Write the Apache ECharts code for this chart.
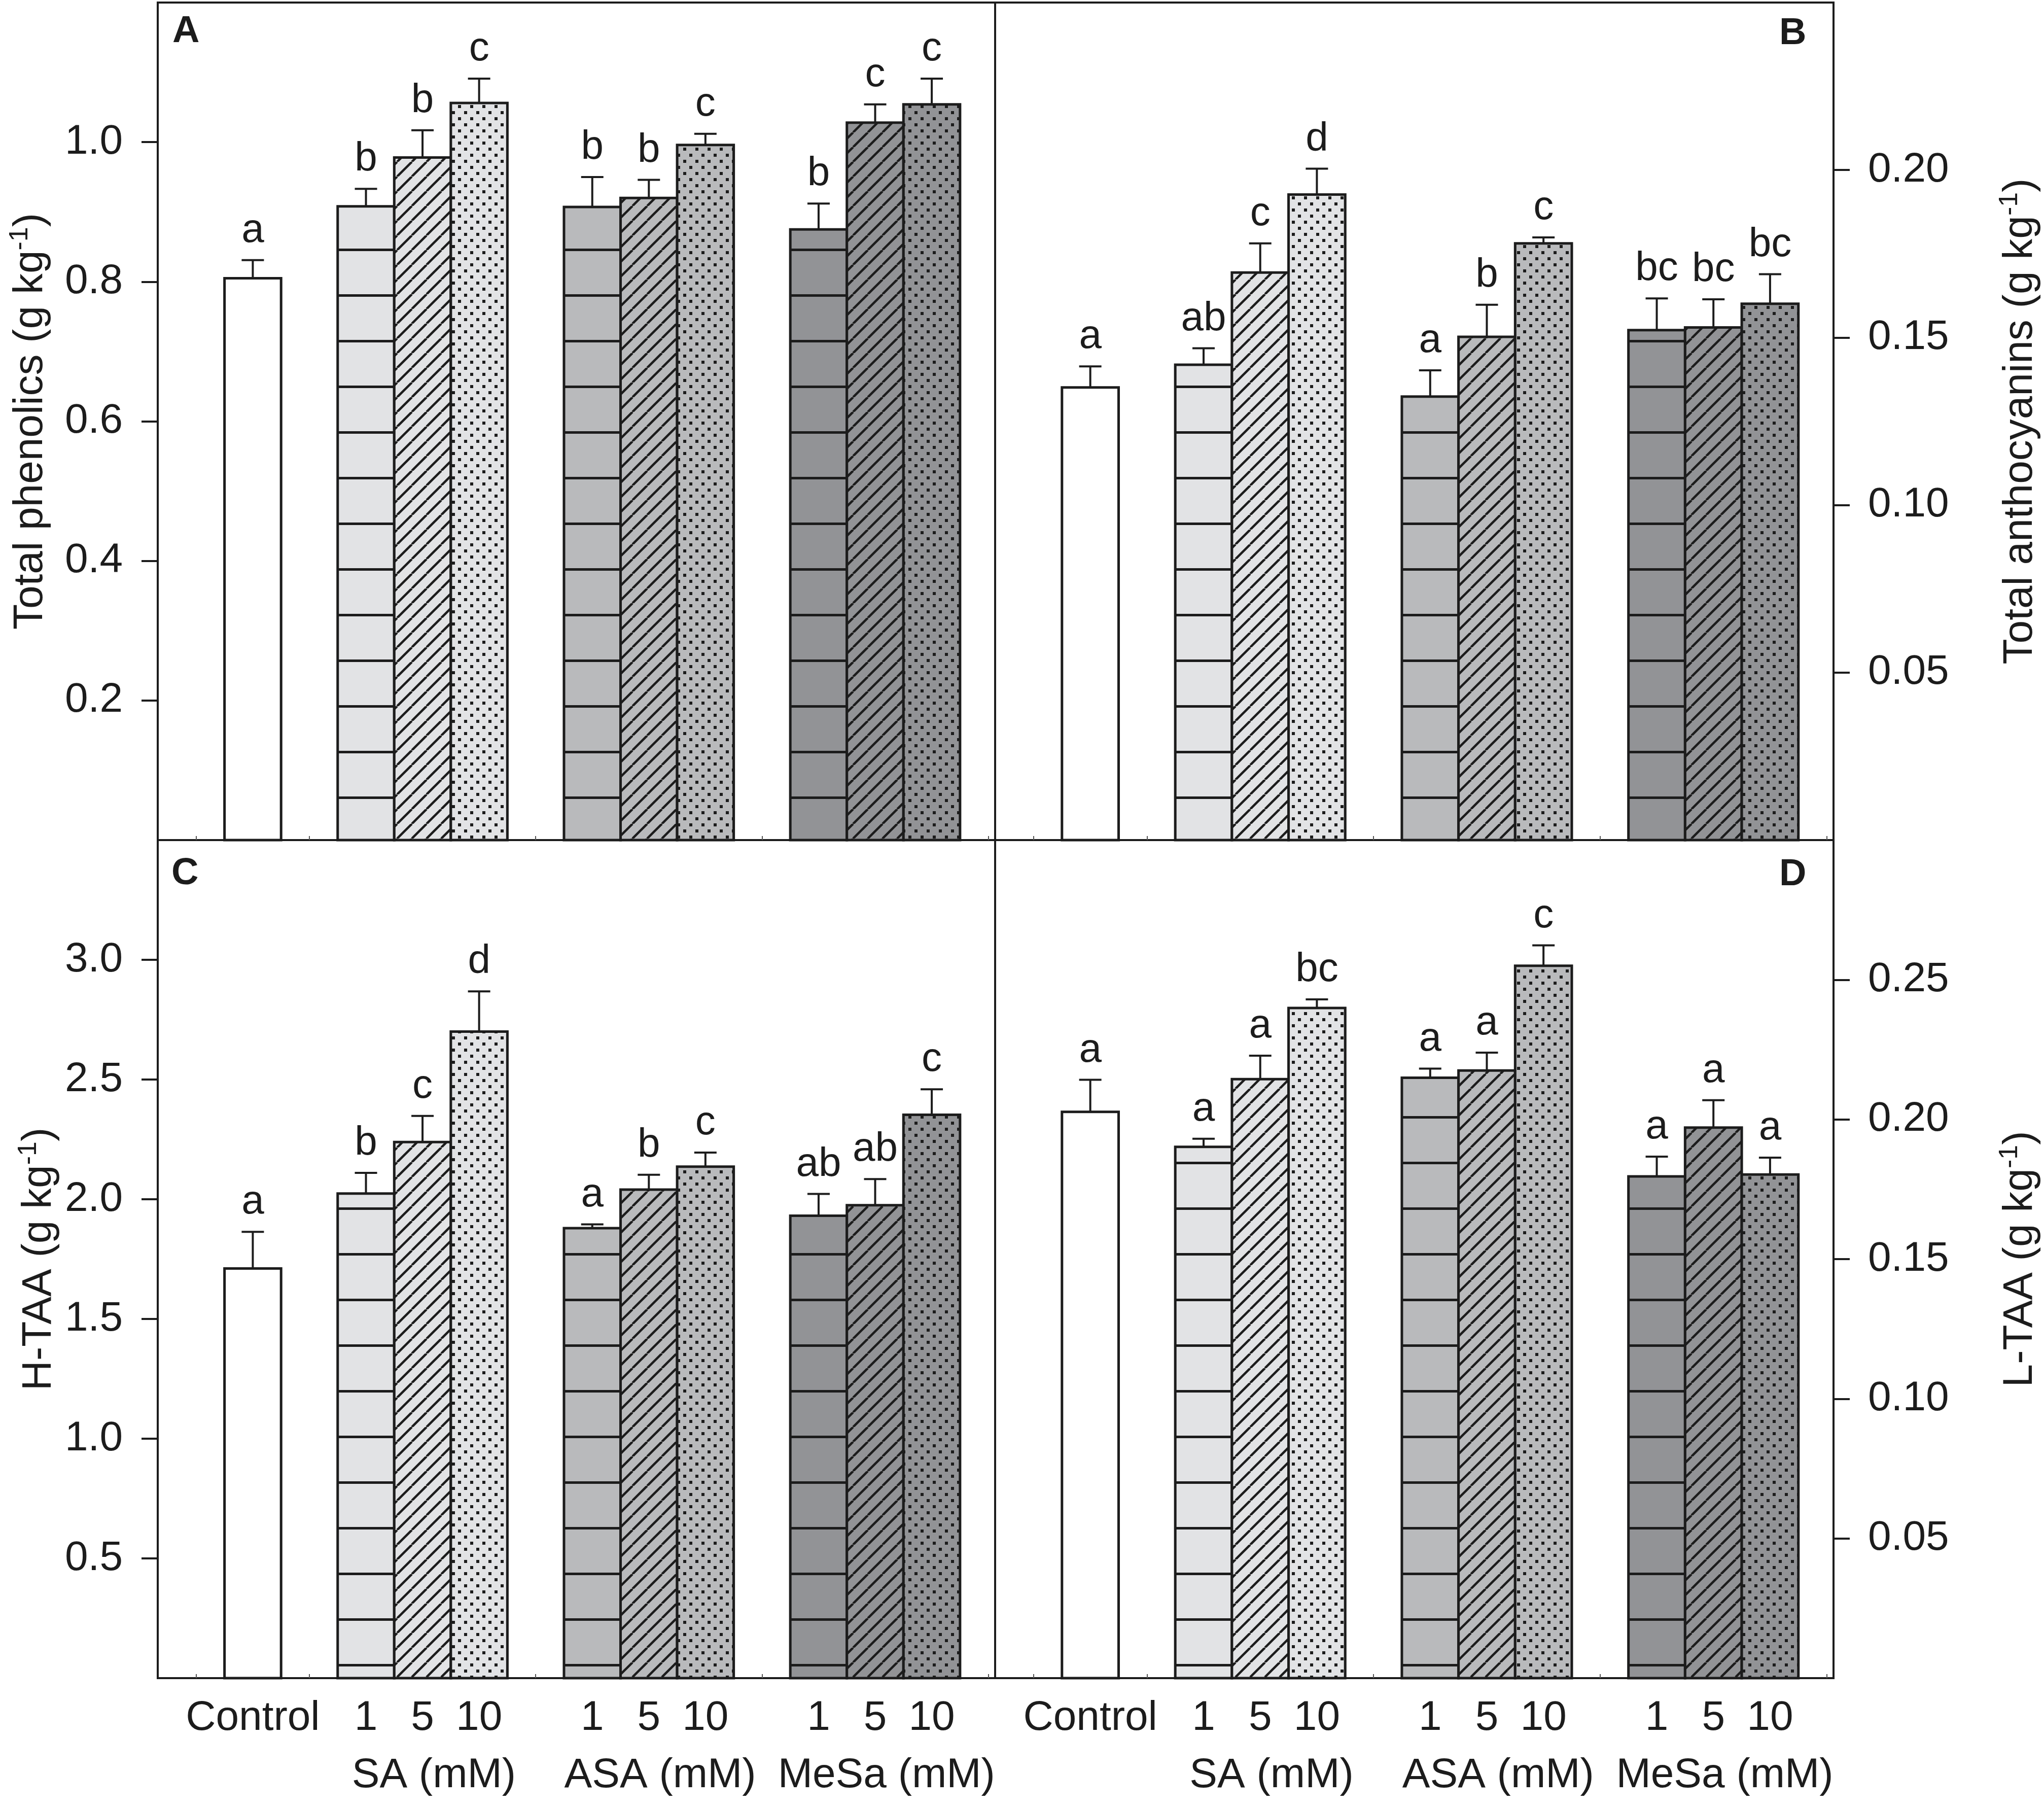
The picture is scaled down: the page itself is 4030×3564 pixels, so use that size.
<!DOCTYPE html>
<html>
<head>
<meta charset="utf-8">
<script src="https://cdn.jsdelivr.net/npm/echarts@6/dist/echarts.min.js"></script>
<style>
html,body{margin:0;padding:0;background:#ffffff;}
#chart{width:4030px;height:3564px;}
</style>
</head>
<body>
<div id="chart"></div>
<script>
// ---------------- data ----------------
const treatments = ['Control','SA 1','SA 5','SA 10','ASA 1','ASA 5','ASA 10','MeSa 1','MeSa 5','MeSa 10'];
const treatmentGroup = [0,1,1,1,2,2,2,3,3,3];
const xTickLabels = ['Control','1','5','10','1','5','10','1','5','10'];
const groupLabels = ['SA (mM)','ASA (mM)','MeSa (mM)'];

const phenolics        = [0.805,0.908,0.978,1.056,0.907,0.920,0.996,0.875,1.028,1.054];
const phenolicsSE      = [0.026,0.025,0.039,0.035,0.043,0.026,0.016,0.037,0.026,0.037];
const phenolicsLetters = ['a','b','b','c','b','b','c','b','c','c'];

const anthocyanins        = [0.1351,0.1419,0.1694,0.1927,0.1324,0.1502,0.1781,0.1522,0.1530,0.1601];
const anthocyaninsSE      = [0.0063,0.0049,0.0087,0.0077,0.0078,0.0096,0.0018,0.0095,0.0084,0.0088];
const anthocyaninsLetters = ['a','ab','c','d','a','b','c','bc','bc','bc'];

const hTAA        = [1.711,2.024,2.239,2.700,1.879,2.040,2.136,1.931,1.975,2.353];
const hTAASE      = [0.153,0.086,0.109,0.168,0.016,0.062,0.059,0.091,0.109,0.106];
const hTAALetters = ['a','b','c','d','a','b','c','ab','ab','c'];

const lTAA        = [0.2027,0.1902,0.2144,0.2399,0.2149,0.2175,0.2550,0.1796,0.1971,0.1803];
const lTAASE      = [0.0115,0.0029,0.0084,0.0031,0.0033,0.0064,0.0073,0.0071,0.0098,0.0060];
const lTAALetters = ['a','a','a','bc','a','a','c','a','a','a'];

const yTicksA = [0.2,0.4,0.6,0.8,1.0];
const yTicksB = [0.05,0.10,0.15,0.20];
const yTicksC = [0.5,1.0,1.5,2.0,2.5,3.0];
const yTicksD = [0.05,0.10,0.15,0.20,0.25];

// ---------------- styling / layout ----------------
const FONT = '"Liberation Sans", Arial, Helvetica, sans-serif';
const INK = '#1c1c1c';
const FS = 82;
const X_MAX = 14.8, X_OFF = 1.68;
const xPos = treatmentGroup.map((g, i) => X_OFF + i + g);
const groupCenters = [1,2,3].map(g => {
  const idx = [];
  treatmentGroup.forEach((gg, i) => { if (gg === g) idx.push(i); });
  return (xPos[idx[0]] + xPos[idx[idx.length - 1]]) / 2 + 0.2;
});
// small inner ticks on the category axis, one per slot (mostly hidden behind bars)
const slotTicks = [];
for (let k = 0; k < 15; k++) slotTicks.push(X_OFF - 1 + k);

const groupColors = ['#ffffff', '#e2e3e5', '#b9babc', '#929396'];
const patternKind = ['none','hline','hatch','dots','hline','hatch','dots','hline','hatch','dots'];

function makeFill(kind, bg) {
  if (kind === 'none') return bg;
  const c = document.createElement('canvas');
  const ctx = c.getContext('2d');
  if (kind === 'hline') {
    c.width = 8; c.height = 90;
    ctx.fillStyle = bg; ctx.fillRect(0, 0, 8, 90);
    ctx.fillStyle = INK; ctx.fillRect(0, 40, 8, 5);
  } else if (kind === 'hatch') {
    const s = 29;
    c.width = s; c.height = s;
    ctx.fillStyle = bg; ctx.fillRect(0, 0, s, s);
    ctx.strokeStyle = INK; ctx.lineWidth = 4.5;
    for (let k = -1; k <= 1; k++) {
      ctx.beginPath(); ctx.moveTo(k * s, s); ctx.lineTo(k * s + s, 0); ctx.stroke();
    }
  } else if (kind === 'dots') {
    c.width = 24; c.height = 24;
    ctx.fillStyle = bg; ctx.fillRect(0, 0, 24, 24);
    ctx.fillStyle = INK;
    ctx.fillRect(3, 3, 6, 6);
    ctx.fillRect(15, 15, 6, 6);
  }
  return { image: c, repeat: 'repeat' };
}
const fills = treatments.map((t, i) => makeFill(patternKind[i], groupColors[treatmentGroup[i]]));

function labelFor(positions, labels) {
  return function (v) {
    for (let i = 0; i < positions.length; i++) {
      if (Math.abs(positions[i] - v) < 1e-6) return labels[i];
    }
    return '';
  };
}

function panelSeries(xIdx, yIdx, values, se, letters) {
  return {
    type: 'custom',
    xAxisIndex: xIdx,
    yAxisIndex: yIdx,
    clip: false,
    z: 5,
    data: values.map((v, i) => [xPos[i], v, se[i]]),
    renderItem: function (params, api) {
      const i = params.dataIndex;
      const x = api.value(0), v = api.value(1), e = api.value(2);
      const p0 = api.coord([x, 0]);
      const p1 = api.coord([x, v]);
      const pe = api.coord([x, v + e]);
      const w = api.size([1, 0])[0];
      return {
        type: 'group',
        children: [
          { type: 'rect', shape: { x: p0[0] - w / 2, y: p1[1], width: w, height: p0[1] - p1[1] },
            style: { fill: fills[i], stroke: INK, lineWidth: 5 } },
          { type: 'line', shape: { x1: p0[0], y1: p1[1], x2: p0[0], y2: pe[1] },
            style: { stroke: INK, lineWidth: 4 } },
          { type: 'line', shape: { x1: p0[0] - 22, y1: pe[1], x2: p0[0] + 22, y2: pe[1] },
            style: { stroke: INK, lineWidth: 4 } },
          { type: 'text', style: { text: letters[i], x: p0[0], y: pe[1] - 18, align: 'center',
            verticalAlign: 'bottom', fontSize: 80, fontFamily: FONT, fill: INK } }
        ]
      };
    }
  };
}

const axisLineStyle = { show: true, onZero: false, lineStyle: { color: INK, width: 4 } };
const slotTickStyle = { show: true, inside: true, customValues: slotTicks, length: 8,
  lineStyle: { color: '#555555', width: 2 } };
function plainX(grid) {
  return { type: 'value', gridIndex: grid, position: 'bottom', min: 0, max: X_MAX, axisLine: axisLineStyle,
    axisTick: slotTickStyle, axisLabel: { show: false }, splitLine: { show: false } };
}
function labelX(grid) {
  return { type: 'value', gridIndex: grid, position: 'bottom', min: 0, max: X_MAX, axisLine: axisLineStyle,
    axisTick: slotTickStyle, splitLine: { show: false },
    axisLabel: { show: true, customValues: xPos, formatter: labelFor(xPos, xTickLabels),
      margin: 38, fontSize: FS, fontFamily: FONT, color: INK, lineHeight: FS } };
}
function groupX(grid) {
  return { type: 'value', gridIndex: grid, position: 'bottom', offset: 0, min: 0, max: X_MAX,
    axisLine: { show: false, onZero: false },
    axisTick: { show: false }, splitLine: { show: false },
    axisLabel: { show: true, customValues: groupCenters, formatter: labelFor(groupCenters, groupLabels),
      margin: 151, fontSize: FS, fontFamily: FONT, color: INK, lineHeight: FS } };
}
function yAx(grid, pos, max, ticks, dec, name, gap, margin) {
  return {
    type: 'value', gridIndex: grid, position: pos, min: 0, max: max,
    axisLine: axisLineStyle,
    axisTick: { show: true, customValues: ticks, length: 32, lineStyle: { color: INK, width: 4 } },
    axisLabel: { show: true, customValues: ticks, formatter: v => v.toFixed(dec), margin: margin,
      fontSize: FS, fontFamily: FONT, color: INK },
    splitLine: { show: false },
    name: name, nameLocation: 'middle', nameGap: gap,
    nameTextStyle: { fontSize: FS, fontFamily: FONT, color: INK, lineHeight: 92,
      rich: { sup: { fontSize: 52, fontFamily: FONT, color: INK, verticalAlign: 'top', lineHeight: 56 } } }
  };
}

const grids = [
  { left: 311, top: 5, width: 1651, height: 1651 },
  { left: 1962, top: 5, width: 1656, height: 1651 },
  { left: 311, top: 1656, width: 1651, height: 1652 },
  { left: 1962, top: 1656, width: 1656, height: 1652 }
].map(g => Object.assign({ show: true, borderColor: INK, borderWidth: 4, backgroundColor: 'transparent', containLabel: false }, g));

const panelTitle = (t, left, top) => ({ text: t, left: left, top: top, padding: 0,
  textStyle: { fontSize: 74, fontWeight: 'bold', fontFamily: FONT, color: INK } });

const option = {
  backgroundColor: '#ffffff',
  animation: false,
  title: [
    panelTitle('A', 340, 26),
    panelTitle('B', 3508, 30),
    panelTitle('C', 338, 1686),
    panelTitle('D', 3508, 1688)
  ],
  grid: grids,
  xAxis: [plainX(0), plainX(1), labelX(2), groupX(2), labelX(3), groupX(3)],
  yAxis: [
    yAx(0, 'left', 1.2, yTicksA, 1, 'Total phenolics (g kg{sup|-1})', 205, 69),
    yAx(1, 'right', 0.25, yTicksB, 2, 'Total anthocyanins (g kg{sup|-1})', 322, 68),
    yAx(2, 'left', 3.5, yTicksC, 1, 'H-TAA (g kg{sup|-1})', 188, 69),
    yAx(3, 'right', 0.3, yTicksD, 2, 'L-TAA (g kg{sup|-1})', 322, 68)
  ],
  series: [
    panelSeries(0, 0, phenolics, phenolicsSE, phenolicsLetters),
    panelSeries(1, 1, anthocyanins, anthocyaninsSE, anthocyaninsLetters),
    panelSeries(2, 2, hTAA, hTAASE, hTAALetters),
    panelSeries(4, 3, lTAA, lTAASE, lTAALetters)
  ]
};

const chart = echarts.init(document.getElementById('chart'));
chart.setOption(option);
</script>
</body>
</html>
